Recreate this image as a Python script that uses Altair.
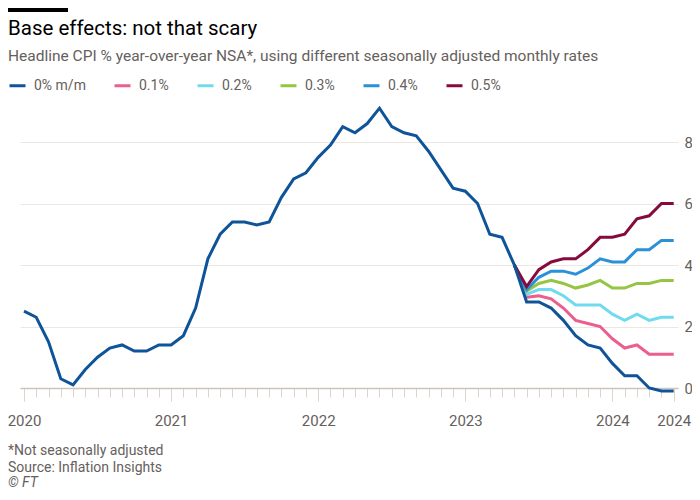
import altair as alt
import pandas as pd

# ---- data ----
series = ["0% m/m", "0.1%", "0.2%", "0.3%", "0.4%", "0.5%"]
colors = ["#0f5499", "#eb5e8d", "#70dbed", "#96c443", "#2a90d8", "#870a3c"]

# Headline CPI y/y, Jan 2020 .. May 2023 (month index 0..40)
history = [
    2.5, 2.3, 1.5, 0.3, 0.1, 0.6, 1.0, 1.3, 1.4, 1.2, 1.2, 1.4,
    1.4, 1.7, 2.6, 4.2, 5.0, 5.4, 5.4, 5.3, 5.4, 6.2, 6.8, 7.0,
    7.5, 7.9, 8.5, 8.3, 8.6, 9.1, 8.5, 8.3, 8.2, 7.7, 7.1, 6.5,
    6.4, 6.0, 5.0, 4.9, 4.0,
]
# Paths Jun 2023 .. Jun 2024 (month index 41..53)
proj_00 = [2.8, 2.8, 2.6, 2.2, 1.7, 1.4, 1.3, 0.8, 0.4, 0.4, 0.0, -0.1, -0.1]
proj_01 = [2.95, 3.0, 2.9, 2.6, 2.2, 2.1, 2.0, 1.6, 1.3, 1.4, 1.1, 1.1, 1.1]
proj_02 = [3.05, 3.2, 3.2, 3.0, 2.7, 2.7, 2.7, 2.4, 2.2, 2.4, 2.2, 2.3, 2.3]
proj_03 = [3.15, 3.4, 3.5, 3.4, 3.25, 3.35, 3.5, 3.25, 3.25, 3.4, 3.4, 3.5, 3.5]
proj_04 = [3.2, 3.6, 3.8, 3.8, 3.7, 3.9, 4.2, 4.1, 4.1, 4.5, 4.5, 4.8, 4.8]
proj_05 = [3.3, 3.85, 4.1, 4.2, 4.2, 4.5, 4.9, 4.9, 5.0, 5.5, 5.6, 6.0, 6.0]

x_tick_values = list(range(54))
year_labels = {0: "2020", 12: "2021", 24: "2022", 36: "2023", 48: "2024", 53: "2024"}
y_tick_values = [0, 2, 4, 6, 8]

title_text = "Base effects: not that scary"
subtitle_text = "Headline CPI % year-over-year NSA*, using different seasonally adjusted monthly rates"
notes_text = ["*Not seasonally adjusted", "Source: Inflation Insights", "\u00a9 FT"]

# ---- tables ----
start = len(history) - 1  # May 2023, where the paths branch off
rows = []
for i, v in enumerate(history + proj_00):
    rows.append({"t": i, "value": v, "series": series[0]})
base_df = pd.DataFrame(rows)

prow = []
for name, proj in zip(series[1:], [proj_01, proj_02, proj_03, proj_04, proj_05]):
    vals = [history[-1]] + proj
    for k, v in enumerate(vals):
        prow.append({"t": start + k, "value": v, "series": name})
proj_df = pd.DataFrame(prow)

GREY = "#66605c"
FONT = "Roboto"

label_expr = " : ".join(
    [f"datum.value === {k} ? '{v}'" for k, v in year_labels.items()]
) + " : ''"
long_tick = " || ".join([f"datum.value === {k}" for k in year_labels])

x_enc = alt.X(
    "t:Q",
    scale=alt.Scale(domain=[-0.326, 53.35], nice=False, zero=False),
    axis=alt.Axis(
        values=x_tick_values,
        labelExpr=label_expr,
        title=None,
        grid=False,
        domainColor="#cdc4bb",
        domainWidth=1.5,
        tickColor="#dcd5ce",
        tickWidth=1,
        tickSize={"condition": {"test": long_tick, "value": 13}, "value": 9},
        labelPadding=12,
        labelOverlap=False,
        labelFont=FONT,
        labelFontSize=15,
        labelColor=GREY,
        labelFlush=False,
    ),
)
y_enc = alt.Y(
    "value:Q",
    scale=alt.Scale(domain=[0, 8], nice=False, zero=False),
    axis=alt.Axis(
        orient="right",
        values=y_tick_values,
        title=None,
        domain=False,
        ticks=False,
        grid=True,
        gridColor="#ede7e1",
        gridWidth=1,
        labelPadding=6,
        labelFont=FONT,
        labelFontSize=15,
        labelColor=GREY,
        labelFlush=False,
    ),
)
color_enc = alt.Color(
    "series:N",
    scale=alt.Scale(domain=series, range=colors),
    legend=alt.Legend(
        orient="none",
        legendX=-12,
        legendY=-66,
        direction="horizontal",
        columns=6,
        title=None,
        symbolType="stroke",
        symbolStrokeWidth=3,
        symbolSize=256,
        labelFont=FONT,
        labelFontSize=14,
        labelColor=GREY,
        labelOffset=7,
        columnPadding=22,
    ),
)

proj_layer = alt.Chart(proj_df).mark_line(strokeWidth=3).encode(
    x=x_enc, y=y_enc, color=color_enc, order="t:Q"
)
base_layer = alt.Chart(base_df).mark_line(strokeWidth=3).encode(
    x=x_enc, y=y_enc, color=color_enc, order="t:Q"
)

one = alt.Data(values=[{}])
bar = alt.Chart(one).mark_rect(color="#000000").encode(
    x=alt.value(-12), x2=alt.value(48), y=alt.value(-134), y2=alt.value(-130)
)
title_layer = alt.Chart(one).mark_text(
    align="left", baseline="alphabetic", font=FONT, fontSize=20.5, color="#000000"
).encode(x=alt.value(-12), y=alt.value(-107), text=alt.value(title_text))
subtitle_layer = alt.Chart(one).mark_text(
    align="left", baseline="alphabetic", font=FONT, fontSize=15.5, color=GREY
).encode(x=alt.value(-12), y=alt.value(-81), text=alt.value(subtitle_text))

note_layers = [
    alt.Chart(one).mark_text(
        align="left", baseline="alphabetic", font=FONT, fontSize=14,
        color=GREY, fontStyle=style
    ).encode(x=alt.value(-12), y=alt.value(yy), text=alt.value(txt))
    for txt, yy, style in zip(notes_text, [313, 330, 345], ["normal", "normal", "italic"])
]

chart = alt.layer(
    proj_layer, base_layer, bar, title_layer, subtitle_layer, *note_layers
).properties(
    width=658,
    height=246,
    padding={"left": 12, "top": 134, "right": 14, "bottom": 104},
    autosize=alt.AutoSizeParams(type="none"),
    background="#ffffff",
).configure_view(stroke=None)

chart.save("out.html", embed_options={"renderer": "svg", "actions": False})
